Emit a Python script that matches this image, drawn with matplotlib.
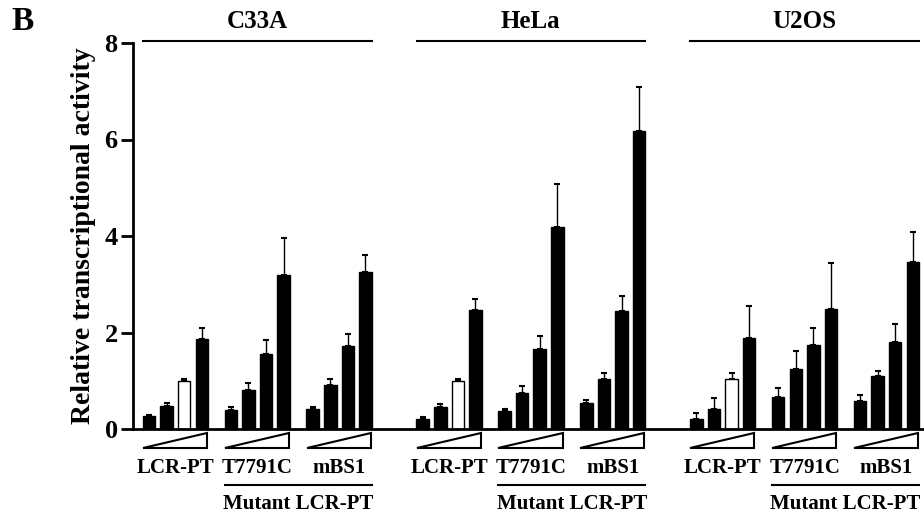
import numpy as np
import matplotlib
matplotlib.use("Agg")
from matplotlib import pyplot as plt
from matplotlib.patches import Polygon

cell_lines = ["C33A", "HeLa", "U2OS"]
constructs = ["LCR-PT", "T7791C", "mBS1"]
mutant_label = "Mutant LCR-PT"
y_ticks = [0, 2, 4, 6, 8]

# 4 doses per construct, constructs in order LCR-PT, T7791C, mBS1
c33a_mean = [0.27, 0.48, 1.00, 1.87, 0.40, 0.80, 1.56, 3.19, 0.42, 0.91, 1.71, 3.25]
c33a_err = [0.02, 0.06, 0.04, 0.23, 0.06, 0.15, 0.29, 0.77, 0.04, 0.12, 0.25, 0.36]
hela_mean = [0.21, 0.45, 1.00, 2.46, 0.38, 0.74, 1.65, 4.18, 0.53, 1.04, 2.45, 6.17]
hela_err = [0.04, 0.07, 0.04, 0.23, 0.03, 0.16, 0.27, 0.89, 0.07, 0.13, 0.30, 0.91]
u2os_mean = [0.21, 0.42, 1.04, 1.88, 0.67, 1.25, 1.74, 2.48, 0.58, 1.09, 1.81, 3.47]
u2os_err = [0.13, 0.23, 0.12, 0.67, 0.18, 0.36, 0.36, 0.97, 0.13, 0.12, 0.36, 0.62]

means = [c33a_mean, hela_mean, u2os_mean]
errs = [c33a_err, hela_err, u2os_err]

plt.rcParams['font.family'] = ['Liberation Serif', 'DejaVu Serif']
plt.rcParams['font.weight'] = 'bold'

bar_pitch = 1.0
group_pitch = 4.65
cell_pitch = 15.55
bar_w = 0.71

fig = plt.figure(figsize=(9.24, 5.12), dpi=100)
ax = fig.add_axes([133 / 924, 1 - 429 / 512, 1 - 133 / 924, (429 - 43) / 512])

for c in range(len(cell_lines)):
    x0 = c * cell_pitch
    xs = []
    for g in range(len(constructs)):
        for d in range(4):
            xs.append(x0 + g * group_pitch + d * bar_pitch)
    xs = np.array(xs)
    colors = ['black'] * 12
    colors[2] = 'white'
    ax.bar(xs, means[c], width=bar_w, color=colors, edgecolor='black', linewidth=1, zorder=2)
    ax.errorbar(xs, means[c], yerr=[np.zeros(12), errs[c]], fmt='none', ecolor='black',
                elinewidth=1, capsize=2.5, capthick=1.5, zorder=1)

    # dose wedges and construct labels
    for g in range(len(constructs)):
        gx = x0 + g * group_pitch
        left = gx - 0.35
        right = gx + 3 + 0.3
        tri = Polygon([[left, -0.40], [right, -0.40], [right, -0.08]], closed=True,
                      facecolor='white', edgecolor='black', linewidth=1.5, clip_on=False)
        ax.add_patch(tri)
        ax.text(gx + 1.5, -0.80, constructs[g], ha='center', va='center', fontsize=15,
                fontweight='bold')

    # mutant bracket
    mx1 = x0 + group_pitch - 0.35
    mx2 = x0 + 2 * group_pitch + 3.35
    ax.plot([mx1, mx2], [-1.17, -1.17], color='black', lw=1.5, clip_on=False)
    ax.text((mx1 + mx2) / 2, -1.55, mutant_label, ha='center', va='center', fontsize=15,
            fontweight='bold')

    # cell line title
    tx1 = x0 - 0.35
    tx2 = x0 + 2 * group_pitch + 3.35
    ax.plot([tx1, tx2], [8.04, 8.04], color='black', lw=1.5, clip_on=False)
    ax.text((tx1 + tx2) / 2, 8.44, cell_lines[c], ha='center', va='center', fontsize=18,
            fontweight='bold')

ax.set_xlim(-0.909, -0.909 + 791 / 17.6)
ax.set_ylim(0, 8)
ax.set_yticks(y_ticks)
ax.set_yticklabels([str(t) for t in y_ticks], fontsize=19, fontweight='bold')
ax.tick_params(axis='y', length=9, width=2, pad=2)
ax.tick_params(axis='x', bottom=False, labelbottom=False)
for s in ['top', 'right']:
    ax.spines[s].set_visible(False)
ax.spines['left'].set_linewidth(2)
ax.spines['bottom'].set_linewidth(2)
ax.set_ylabel("Relative transcriptional activity", fontsize=20, fontweight='bold', labelpad=6)

fig.text(11 / 924, 1 - 21 / 512, "B", fontsize=24, fontweight='bold', va='center', ha='left')

fig.savefig("out.png", dpi=100)
